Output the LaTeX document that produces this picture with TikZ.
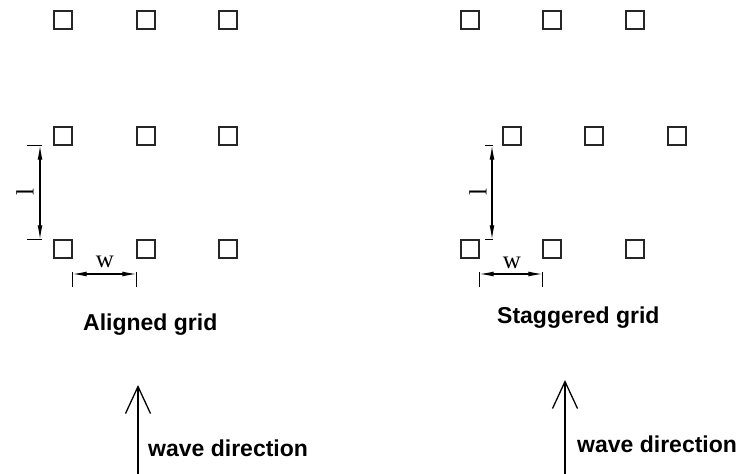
\documentclass[tikz,border=0pt]{standalone}
\usepackage{fontspec}
\setmainfont{Liberation Serif}
\setsansfont{Liberation Sans}
\usetikzlibrary{arrows.meta}

\tikzset{
    pile/.style={draw=black!85, line width=1.4pt, minimum size=18pt, inner sep=0pt},
    dimline/.style={line width=1.1pt, {Latex[length=14pt,width=5pt]}-{Latex[length=14pt,width=5pt]}},
    tick/.style={line width=1.1pt},
    dimlabel/.style={inner sep=0pt, font=\fontsize{25}{25}\selectfont},
    caption/.style={inner sep=0pt, anchor=base west, font=\sffamily\bfseries\fontsize{23}{26}\selectfont},
    wave/.style={line width=1.3pt, -{Straight Barb[length=27pt,width=25pt,line width=1.3pt]}}
}

\begin{document}
\begin{tikzpicture}[x=1pt,y=-1pt]
    \useasboundingbox (0,0) rectangle (740,474);

    % Aligned grid
    \foreach \c/\x in {1/63, 2/146, 3/228} {
        \foreach \r/\y in {1/20, 2/136, 3/249} {
            \node[pile] (a\r\c) at (\x,\y) {};
        }
    }

    % Staggered grid, middle row shifted by half a spacing
    \foreach \c/\x in {1/470, 2/552, 3/635} {
        \node[pile] (s1\c) at (\x,20) {};
        \node[pile] (s2\c) at (\x+42,136) {};
        \node[pile] (s3\c) at (\x,249) {};
    }

    % Dimension l, aligned
    \coordinate (la) at (40,0);
    \draw[dimline] (a21.south -| la) -- (a31.north -| la);
    \draw[tick] (a21.south -| la) ++(-13,0) -- ++(15,0);
    \draw[tick] (a31.north -| la) ++(-13,0) -- ++(15,0);
    \node[dimlabel, rotate=90] (lla) at (25,192) {l};

    % Dimension w, aligned
    \coordinate (wa) at (0,274);
    \draw[dimline] (a31.east |- wa) -- (a32.west |- wa);
    \draw[tick] (a31.east |- wa) ++(0,-2) -- ++(0,15);
    \draw[tick] (a32.west |- wa) ++(0,-2) -- ++(0,15);
    \node[dimlabel] (lwa) at (105,262) {w};

    % Dimension l, staggered
    \coordinate (ls) at (492,0);
    \draw[dimline] (s21.south -| ls) -- (s31.north -| ls);
    \draw[tick] (s21.south -| ls) ++(-7,0) -- ++(8,0);
    \draw[tick] (s31.north -| ls) ++(-7,0) -- ++(8,0);
    \node[dimlabel, rotate=90] (lls) at (478,192) {l};

    % Dimension w, staggered
    \coordinate (ws) at (0,274);
    \draw[dimline] (s31.east |- ws) -- (s32.west |- ws);
    \draw[tick] (s31.east |- ws) ++(0,-2) -- ++(0,15);
    \draw[tick] (s32.west |- ws) ++(0,-2) -- ++(0,15);
    \node[dimlabel] (lws) at (512,263) {w};

    % Captions
    \node[caption] (capa) at (83,330) {Aligned grid};
    \node[caption] (caps) at (497,323) {Staggered grid};

    % Wave directions
    \coordinate (wa0) at (138,474);
    \coordinate (wa1) at (138,385);
    \draw[wave] (wa0) -- (wa1);
    \node[caption] (wta) at (148,456) {wave direction};

    \coordinate (ws0) at (565,474);
    \coordinate (ws1) at (565,380);
    \draw[wave] (ws0) -- (ws1);
    \node[caption] (wts) at (577,452) {wave direction};
\end{tikzpicture}
\end{document}
